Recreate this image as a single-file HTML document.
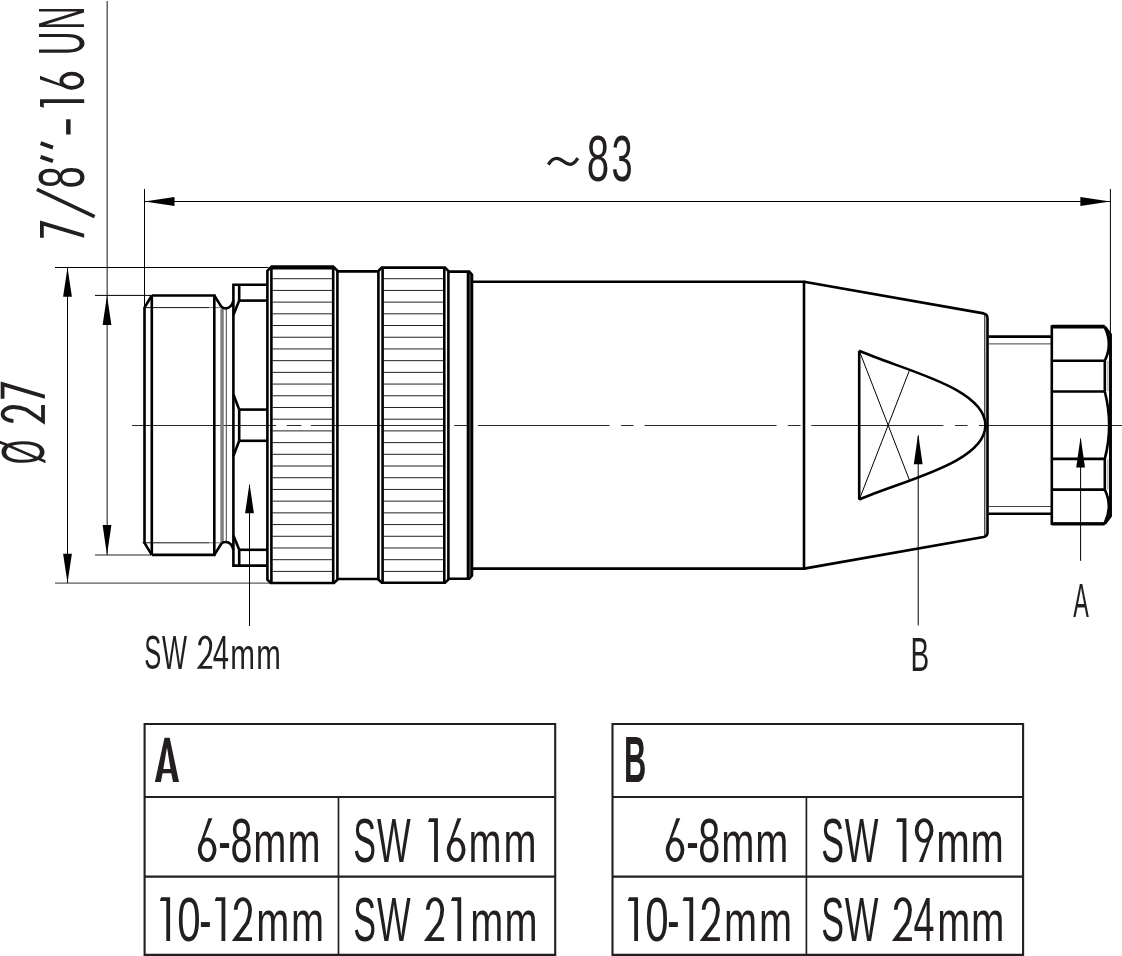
<!DOCTYPE html>
<html><head><meta charset="utf-8"><title>Connector drawing</title>
<style>
html,body{margin:0;padding:0;background:#fff;}
body{width:1122px;height:956px;overflow:hidden;}
svg{display:block;will-change:transform;}
text{font-family:"Liberation Sans",sans-serif;fill:#231f20;}
</style></head>
<body>
<svg width="1122" height="956" viewBox="0 0 1122 956">
<rect width="1122" height="956" fill="#fff"/>
<g stroke-linecap="butt" stroke-linejoin="miter">
<line x1="144.4" y1="201.5" x2="1110.4" y2="201.5" stroke="#000" stroke-width="1.0"/>
<path d="M144.6,201.5 L174.50,205.90 L174.50,197.10 Z" fill="#000"/>
<path d="M1110.2,201.5 L1080.40,197.10 L1080.40,205.90 Z" fill="#000"/>
<line x1="144.5" y1="189" x2="144.5" y2="308" stroke="#000" stroke-width="1.0"/>
<line x1="1110.4" y1="189" x2="1110.4" y2="334" stroke="#000" stroke-width="1.0"/>
<line x1="107.2" y1="1" x2="107.2" y2="554.9" stroke="#4a4a4a" stroke-width="1.3"/>
<path d="M107.0,295.5 L102.60,325.00 L111.40,325.00 Z" fill="#000"/>
<path d="M107.0,554.9 L111.40,524.90 L102.60,524.90 Z" fill="#000"/>
<line x1="67.5" y1="267.5" x2="67.5" y2="583.1" stroke="#000" stroke-width="1.0"/>
<path d="M67.5,267.5 L63.10,296.70 L71.90,296.70 Z" fill="#000"/>
<path d="M67.5,583.1 L71.90,553.80 L63.10,553.80 Z" fill="#000"/>
<line x1="55" y1="267.5" x2="268.5" y2="267.5" stroke="#000" stroke-width="1.0"/>
<line x1="55" y1="583.1" x2="269.5" y2="583.1" stroke="#333" stroke-width="1.0"/>
<line x1="95" y1="295.4" x2="151" y2="295.4" stroke="#000" stroke-width="1.0"/>
<line x1="95" y1="555.0" x2="151" y2="555.0" stroke="#222" stroke-width="1.0"/>
<line x1="132" y1="425.5" x2="276" y2="425.5" stroke="#2a2a2a" stroke-width="1.0"/>
<line x1="286.7" y1="425.5" x2="301.4" y2="425.5" stroke="#2a2a2a" stroke-width="1.0"/>
<line x1="310.8" y1="425.5" x2="443" y2="425.5" stroke="#2a2a2a" stroke-width="1.0"/>
<line x1="454.2" y1="425.5" x2="468" y2="425.5" stroke="#2a2a2a" stroke-width="1.0"/>
<line x1="478" y1="425.5" x2="609.5" y2="425.5" stroke="#2a2a2a" stroke-width="1.0"/>
<line x1="621" y1="425.5" x2="633.5" y2="425.5" stroke="#2a2a2a" stroke-width="1.0"/>
<line x1="644.5" y1="425.5" x2="776.6" y2="425.5" stroke="#2a2a2a" stroke-width="1.0"/>
<line x1="787.8" y1="425.5" x2="800.6" y2="425.5" stroke="#2a2a2a" stroke-width="1.0"/>
<line x1="811.3" y1="425.5" x2="943.4" y2="425.5" stroke="#2a2a2a" stroke-width="1.0"/>
<line x1="955" y1="425.5" x2="967.6" y2="425.5" stroke="#2a2a2a" stroke-width="1.0"/>
<line x1="979" y1="425.5" x2="1122" y2="425.5" stroke="#2a2a2a" stroke-width="1.0"/>
<line x1="249.5" y1="485" x2="249.5" y2="626" stroke="#000" stroke-width="1.0"/>
<path d="M249.5,483.2 L245.10,513.30 L253.90,513.30 Z" fill="#000"/>
<line x1="918.2" y1="436" x2="918.2" y2="625.4" stroke="#000" stroke-width="1.0"/>
<path d="M918.2,433.8 L913.80,464.20 L922.60,464.20 Z" fill="#000"/>
<line x1="1080.6" y1="439" x2="1080.6" y2="560.8" stroke="#000" stroke-width="1.0"/>
<path d="M1080.6,436.9 L1076.20,467.50 L1085.00,467.50 Z" fill="#000"/>
<rect x="220.3" y="308.6" width="3.5" height="233.2" fill="#808080"/>
<line x1="226.3" y1="308.6" x2="226.3" y2="541.8" stroke="#444" stroke-width="1.0"/>
<line x1="144.5" y1="307.6" x2="209" y2="307.6" stroke="#111" stroke-width="1.0"/>
<line x1="209" y1="307.6" x2="220.5" y2="307.6" stroke="#777" stroke-width="1.0"/>
<line x1="142.5" y1="542.8" x2="209" y2="542.8" stroke="#111" stroke-width="1.0"/>
<line x1="209" y1="542.8" x2="220.5" y2="542.8" stroke="#777" stroke-width="1.0"/>
<path d="M151.8,295.5 L144.5,307.6 L144.5,542.8 L151.8,554.9" stroke="#000" stroke-width="2.6" fill="none"/>
<path d="M151.8,295.5 L151.8,554.9" stroke="#000" stroke-width="2.6" fill="none"/>
<path d="M151.8,295.5 L214.3,295.5 L214.3,554.9 L151.8,554.9" stroke="#000" stroke-width="2.6" fill="none"/>
<path d="M214.3,295.5 L221.3,306.6 Q222.6,308.4 225.5,308.4 Q231.6,308.4 233.4,300.5" stroke="#000" stroke-width="2.6" fill="none"/>
<path d="M214.3,554.9 L221.3,543.8 Q222.6,542.0 225.5,542.0 Q231.6,542.0 233.4,549.9" stroke="#000" stroke-width="2.6" fill="none"/>
<path d="M267.4,284.8 L233.4,284.8 L233.4,565.6 L267.4,565.6" stroke="#000" stroke-width="2.6" fill="none"/>
<line x1="239.2" y1="284.8" x2="239.2" y2="300.6" stroke="#000" stroke-width="2.6"/>
<line x1="239.2" y1="409.6" x2="239.2" y2="440.8" stroke="#000" stroke-width="2.6"/>
<line x1="239.2" y1="549.8" x2="239.2" y2="565.6" stroke="#000" stroke-width="2.6"/>
<line x1="239.2" y1="300.6" x2="267.4" y2="300.6" stroke="#000" stroke-width="2.6"/>
<line x1="239.2" y1="549.8" x2="267.4" y2="549.8" stroke="#000" stroke-width="2.6"/>
<line x1="239.2" y1="409.6" x2="267.4" y2="409.6" stroke="#000" stroke-width="2.6"/>
<line x1="239.2" y1="440.8" x2="267.4" y2="440.8" stroke="#000" stroke-width="2.6"/>
<line x1="239.2" y1="300.6" x2="233.4" y2="315.0" stroke="#000" stroke-width="2.6"/>
<line x1="239.2" y1="549.8" x2="233.4" y2="535.4" stroke="#000" stroke-width="2.6"/>
<line x1="233.4" y1="394.3" x2="239.2" y2="409.6" stroke="#000" stroke-width="2.6"/>
<line x1="233.4" y1="456.1" x2="239.2" y2="440.8" stroke="#000" stroke-width="2.6"/>
<line x1="272.5" y1="278.7" x2="332.09999999999997" y2="278.7" stroke="#222" stroke-width="1.0"/>
<line x1="272.5" y1="290.41" x2="332.09999999999997" y2="290.41" stroke="#222" stroke-width="1.0"/>
<line x1="272.5" y1="302.12" x2="332.09999999999997" y2="302.12" stroke="#222" stroke-width="1.0"/>
<line x1="272.5" y1="313.82" x2="332.09999999999997" y2="313.82" stroke="#222" stroke-width="1.0"/>
<line x1="272.5" y1="325.53" x2="332.09999999999997" y2="325.53" stroke="#222" stroke-width="1.0"/>
<line x1="272.5" y1="337.24" x2="332.09999999999997" y2="337.24" stroke="#222" stroke-width="1.0"/>
<line x1="272.5" y1="348.95" x2="332.09999999999997" y2="348.95" stroke="#222" stroke-width="1.0"/>
<line x1="272.5" y1="360.66" x2="332.09999999999997" y2="360.66" stroke="#222" stroke-width="1.0"/>
<line x1="272.5" y1="372.36" x2="332.09999999999997" y2="372.36" stroke="#222" stroke-width="1.0"/>
<line x1="272.5" y1="384.07" x2="332.09999999999997" y2="384.07" stroke="#222" stroke-width="1.0"/>
<line x1="272.5" y1="395.78" x2="332.09999999999997" y2="395.78" stroke="#222" stroke-width="1.0"/>
<line x1="272.5" y1="407.49" x2="332.09999999999997" y2="407.49" stroke="#222" stroke-width="1.0"/>
<line x1="272.5" y1="419.2" x2="332.09999999999997" y2="419.2" stroke="#222" stroke-width="1.0"/>
<line x1="272.5" y1="430.9" x2="332.09999999999997" y2="430.9" stroke="#222" stroke-width="1.0"/>
<line x1="272.5" y1="442.61" x2="332.09999999999997" y2="442.61" stroke="#222" stroke-width="1.0"/>
<line x1="272.5" y1="454.32" x2="332.09999999999997" y2="454.32" stroke="#222" stroke-width="1.0"/>
<line x1="272.5" y1="466.03" x2="332.09999999999997" y2="466.03" stroke="#222" stroke-width="1.0"/>
<line x1="272.5" y1="477.74" x2="332.09999999999997" y2="477.74" stroke="#222" stroke-width="1.0"/>
<line x1="272.5" y1="489.44" x2="332.09999999999997" y2="489.44" stroke="#222" stroke-width="1.0"/>
<line x1="272.5" y1="501.15" x2="332.09999999999997" y2="501.15" stroke="#222" stroke-width="1.0"/>
<line x1="272.5" y1="512.86" x2="332.09999999999997" y2="512.86" stroke="#222" stroke-width="1.0"/>
<line x1="272.5" y1="524.57" x2="332.09999999999997" y2="524.57" stroke="#222" stroke-width="1.0"/>
<line x1="272.5" y1="536.28" x2="332.09999999999997" y2="536.28" stroke="#222" stroke-width="1.0"/>
<line x1="272.5" y1="547.98" x2="332.09999999999997" y2="547.98" stroke="#222" stroke-width="1.0"/>
<line x1="272.5" y1="559.69" x2="332.09999999999997" y2="559.69" stroke="#222" stroke-width="1.0"/>
<line x1="272.5" y1="571.4" x2="332.09999999999997" y2="571.4" stroke="#222" stroke-width="1.0"/>
<path d="M267.4,270.79999999999995 L270.79999999999995,267.4 L334.0,267.4 L337.4,270.79999999999995 L337.4,579.6 L334.0,583.0 L270.79999999999995,583.0 L267.4,579.6 Z" stroke="#000" stroke-width="2.6" fill="none"/>
<line x1="271.4" y1="267.4" x2="271.4" y2="583.0" stroke="#000" stroke-width="2.6"/>
<line x1="333.2" y1="267.4" x2="333.2" y2="583.0" stroke="#000" stroke-width="2.6"/>
<line x1="270.79999999999995" y1="267.4" x2="334.0" y2="267.4" stroke="#000" stroke-width="4.3"/>
<line x1="337.4" y1="271.4" x2="378.4" y2="271.4" stroke="#000" stroke-width="2.6"/>
<line x1="337.4" y1="579.0" x2="378.4" y2="579.0" stroke="#000" stroke-width="2.6"/>
<line x1="383.70000000000005" y1="278.7" x2="443.2" y2="278.7" stroke="#222" stroke-width="1.0"/>
<line x1="383.70000000000005" y1="290.41" x2="443.2" y2="290.41" stroke="#222" stroke-width="1.0"/>
<line x1="383.70000000000005" y1="302.12" x2="443.2" y2="302.12" stroke="#222" stroke-width="1.0"/>
<line x1="383.70000000000005" y1="313.82" x2="443.2" y2="313.82" stroke="#222" stroke-width="1.0"/>
<line x1="383.70000000000005" y1="325.53" x2="443.2" y2="325.53" stroke="#222" stroke-width="1.0"/>
<line x1="383.70000000000005" y1="337.24" x2="443.2" y2="337.24" stroke="#222" stroke-width="1.0"/>
<line x1="383.70000000000005" y1="348.95" x2="443.2" y2="348.95" stroke="#222" stroke-width="1.0"/>
<line x1="383.70000000000005" y1="360.66" x2="443.2" y2="360.66" stroke="#222" stroke-width="1.0"/>
<line x1="383.70000000000005" y1="372.36" x2="443.2" y2="372.36" stroke="#222" stroke-width="1.0"/>
<line x1="383.70000000000005" y1="384.07" x2="443.2" y2="384.07" stroke="#222" stroke-width="1.0"/>
<line x1="383.70000000000005" y1="395.78" x2="443.2" y2="395.78" stroke="#222" stroke-width="1.0"/>
<line x1="383.70000000000005" y1="407.49" x2="443.2" y2="407.49" stroke="#222" stroke-width="1.0"/>
<line x1="383.70000000000005" y1="419.2" x2="443.2" y2="419.2" stroke="#222" stroke-width="1.0"/>
<line x1="383.70000000000005" y1="430.9" x2="443.2" y2="430.9" stroke="#222" stroke-width="1.0"/>
<line x1="383.70000000000005" y1="442.61" x2="443.2" y2="442.61" stroke="#222" stroke-width="1.0"/>
<line x1="383.70000000000005" y1="454.32" x2="443.2" y2="454.32" stroke="#222" stroke-width="1.0"/>
<line x1="383.70000000000005" y1="466.03" x2="443.2" y2="466.03" stroke="#222" stroke-width="1.0"/>
<line x1="383.70000000000005" y1="477.74" x2="443.2" y2="477.74" stroke="#222" stroke-width="1.0"/>
<line x1="383.70000000000005" y1="489.44" x2="443.2" y2="489.44" stroke="#222" stroke-width="1.0"/>
<line x1="383.70000000000005" y1="501.15" x2="443.2" y2="501.15" stroke="#222" stroke-width="1.0"/>
<line x1="383.70000000000005" y1="512.86" x2="443.2" y2="512.86" stroke="#222" stroke-width="1.0"/>
<line x1="383.70000000000005" y1="524.57" x2="443.2" y2="524.57" stroke="#222" stroke-width="1.0"/>
<line x1="383.70000000000005" y1="536.28" x2="443.2" y2="536.28" stroke="#222" stroke-width="1.0"/>
<line x1="383.70000000000005" y1="547.98" x2="443.2" y2="547.98" stroke="#222" stroke-width="1.0"/>
<line x1="383.70000000000005" y1="559.69" x2="443.2" y2="559.69" stroke="#222" stroke-width="1.0"/>
<line x1="383.70000000000005" y1="571.4" x2="443.2" y2="571.4" stroke="#222" stroke-width="1.0"/>
<path d="M378.4,271.0 L381.79999999999995,267.6 L445.0,267.6 L448.4,271.0 L448.4,579.4 L445.0,582.8 L381.79999999999995,582.8 L378.4,579.4 Z" stroke="#000" stroke-width="2.6" fill="none"/>
<line x1="382.6" y1="267.6" x2="382.6" y2="582.8" stroke="#000" stroke-width="2.6"/>
<line x1="444.3" y1="267.6" x2="444.3" y2="582.8" stroke="#000" stroke-width="2.6"/>
<rect x="468.8" y="274" width="2.4" height="302.4" fill="#4a4a4a"/>
<path d="M448.4,271.6 L469.2,271.6 L472.0,274.8 L472.0,575.6 L469.2,578.8 L448.4,578.8" stroke="#000" stroke-width="2.6" fill="none"/>
<line x1="468.0" y1="271.6" x2="468.0" y2="578.8" stroke="#000" stroke-width="2.6"/>
<path d="M472,281.8 L804,281.8 L804,568.6 L472,568.6" stroke="#000" stroke-width="2.6" fill="none"/>
<path d="M804,281.8 L983.6,313.4 Q987.5,314.2 987.5,318.2 L987.5,532.2 Q987.5,536.2 983.6,537.0 L804,568.6" stroke="#000" stroke-width="2.6" fill="none"/>
<line x1="984.8" y1="315" x2="984.8" y2="535.4" stroke="#000" stroke-width="1.0"/>
<line x1="859.2" y1="350.6" x2="909.8" y2="481.0" stroke="#000" stroke-width="1"/>
<line x1="859.2" y1="499.8" x2="909.8" y2="369.4" stroke="#000" stroke-width="1"/>
<path d="M859.2,499.6 L859.2,350.8" stroke="#000" stroke-width="2.6" fill="none"/>
<path d="M859.2,350.8 C902.3,369.9 985.4,387.7 985.4,425.2" stroke="#000" stroke-width="2.6" fill="none"/>
<path d="M859.2,499.6 C902.3,480.5 985.4,462.7 985.4,425.2" stroke="#000" stroke-width="2.6" fill="none"/>
<line x1="988.6" y1="336.6" x2="1051.8" y2="336.6" stroke="#000" stroke-width="2.6"/>
<line x1="988.6" y1="513.8" x2="1051.8" y2="513.8" stroke="#000" stroke-width="2.6"/>
<line x1="988.6" y1="343.9" x2="1051.8" y2="343.9" stroke="#444" stroke-width="1.0"/>
<line x1="988.6" y1="506.5" x2="1051.8" y2="506.5" stroke="#444" stroke-width="1.0"/>
<path d="M1104.6,326.6 L1051.8,326.6 L1051.8,523.8 L1104.6,523.8" stroke="#000" stroke-width="2.6" fill="none"/>
<line x1="1051.8" y1="326.6" x2="1104.6" y2="326.6" stroke="#000" stroke-width="3.8"/>
<line x1="1051.8" y1="523.8" x2="1104.6" y2="523.8" stroke="#000" stroke-width="3.2"/>
<path d="M1104.6,326.6 L1110.5,334.4 L1110.5,516.0 L1104.6,523.8" stroke="#000" stroke-width="2.9" fill="none"/>
<line x1="1051.8" y1="360.8" x2="1104.8" y2="360.8" stroke="#000" stroke-width="2.6"/>
<line x1="1051.8" y1="489.6" x2="1104.8" y2="489.6" stroke="#000" stroke-width="2.6"/>
<line x1="1051.8" y1="391.5" x2="1104.8" y2="391.5" stroke="#000" stroke-width="2.6"/>
<line x1="1051.8" y1="458.9" x2="1104.8" y2="458.9" stroke="#000" stroke-width="2.6"/>
<line x1="1104.8" y1="360.8" x2="1104.8" y2="391.5" stroke="#000" stroke-width="2.6"/>
<line x1="1104.8" y1="489.6" x2="1104.8" y2="458.9" stroke="#000" stroke-width="2.6"/>
<path d="M1104.6,327 Q1113,344 1104.8,360.8" stroke="#000" stroke-width="2.6" fill="none"/>
<path d="M1104.6,523.4 Q1113,506.4 1104.8,489.6" stroke="#000" stroke-width="2.6" fill="none"/>
<path d="M1104.8,391.5 Q1113.5,425.2 1104.8,458.9" stroke="#000" stroke-width="2.6" fill="none"/>
<line x1="1107.9" y1="361" x2="1107.9" y2="391" stroke="#666" stroke-width="0.7"/>
<line x1="1107.9" y1="489.4" x2="1107.9" y2="459.4" stroke="#666" stroke-width="0.7"/>
<path d="M144.6,956.9 L144.6,724.0 L555.2,724.0 L555.2,956.9" stroke="#231f20" stroke-width="2.1" fill="none"/>
<line x1="144.6" y1="797.0" x2="555.2" y2="797.0" stroke="#231f20" stroke-width="2.1"/>
<line x1="144.6" y1="876.6" x2="555.2" y2="876.6" stroke="#231f20" stroke-width="2.1"/>
<line x1="144.6" y1="954.9" x2="555.2" y2="954.9" stroke="#231f20" stroke-width="2.1"/>
<line x1="338.5" y1="797.0" x2="338.5" y2="954.9" stroke="#231f20" stroke-width="1.7"/>
<path d="M612.5,956.9 L612.5,724.0 L1023.1,724.0 L1023.1,956.9" stroke="#231f20" stroke-width="2.1" fill="none"/>
<line x1="612.5" y1="797.0" x2="1023.1" y2="797.0" stroke="#231f20" stroke-width="2.1"/>
<line x1="612.5" y1="876.6" x2="1023.1" y2="876.6" stroke="#231f20" stroke-width="2.1"/>
<line x1="612.5" y1="954.9" x2="1023.1" y2="954.9" stroke="#231f20" stroke-width="2.1"/>
<line x1="806.4" y1="797.0" x2="806.4" y2="954.9" stroke="#231f20" stroke-width="1.7"/>
</g>
<g>
<path fill-rule="evenodd" fill="#231f20" d="M154.9,782 L164.5,737.7 L169.7,737.7 L179,782 L173,782 L171.3,773.3 L162.6,773.3 L160.9,782 Z M163.3,769.1 L170.5,769.1 L167.2,748.5 L166.8,748.5 Z"/>
<g transform="translate(0,862.1)"><ellipse cx="207.15" cy="-12.26" rx="7.47" ry="10.39" fill="none" stroke="#231f20" stroke-width="3.75"/><polygon points="208.46,-43.80 212.39,-43.80 203.78,-22.65 199.68,-14.10 197.80,-12.26" fill="#231f20"/><text transform="translate(218.33,0.00) scale(0.5916,1.0000)" font-size="63.7">-</text><text transform="translate(230.39,0.00) scale(0.6189,1.0000)" font-size="63.7">8</text><text transform="translate(253.36,0.00) scale(0.6251,0.9150)" font-size="63.7">m</text><text transform="translate(287.47,0.00) scale(0.6228,0.9150)" font-size="63.7">m</text><text transform="translate(353.25,0.00) scale(0.5345,1.0000)" font-size="63.7">S</text><text transform="translate(376.94,0.00) scale(0.5602,1.0000)" font-size="63.7">W</text><path d="M429.30,-43.80 L437.90,-43.80 L437.90,0 L434.10,0 L434.10,-40.10 L428.00,-40.10 Z" fill="#231f20"/><ellipse cx="456.10" cy="-12.26" rx="7.53" ry="10.39" fill="none" stroke="#231f20" stroke-width="3.75"/><polygon points="457.42,-43.80 461.36,-43.80 452.72,-22.65 448.57,-14.10 446.70,-12.26" fill="#231f20"/><text transform="translate(468.47,0.00) scale(0.6228,0.9150)" font-size="63.7">m</text><text transform="translate(503.47,0.00) scale(0.6228,0.9150)" font-size="63.7">m</text></g>
<g transform="translate(0,941.0)"><path d="M161.10,-43.80 L170.10,-43.80 L170.10,0 L166.30,0 L166.30,-40.10 L159.80,-40.10 Z" fill="#231f20"/><text transform="translate(177.26,0.00) scale(0.6601,1.0000)" font-size="63.7">0</text><text transform="translate(199.36,0.00) scale(0.5787,1.0000)" font-size="63.7">-</text><path d="M216.00,-43.80 L225.30,-43.80 L225.30,0 L221.50,0 L221.50,-40.10 L214.70,-40.10 Z" fill="#231f20"/><path d="M235.68,-31.75 L235.68,-31.19 A7.22,10.73 0 0 1 250.12,-31.19 C250.12,-25.94 249.03,-22.43 247.21,-18.05 L235.49,-1.88 L252.00,-1.88" fill="none" stroke="#231f20" stroke-width="3.75" stroke-linejoin="miter" stroke-miterlimit="8"/><text transform="translate(256.17,0.00) scale(0.6228,0.9150)" font-size="63.7">m</text><text transform="translate(291.07,0.00) scale(0.6228,0.9150)" font-size="63.7">m</text><text transform="translate(353.25,0.00) scale(0.5345,1.0000)" font-size="63.7">S</text><text transform="translate(376.94,0.00) scale(0.5602,1.0000)" font-size="63.7">W</text><path d="M427.77,-31.75 L427.77,-31.19 A7.23,10.73 0 0 1 442.23,-31.19 C442.23,-25.94 441.13,-22.43 439.31,-18.05 L427.59,-1.88 L444.10,-1.88" fill="none" stroke="#231f20" stroke-width="3.75" stroke-linejoin="miter" stroke-miterlimit="8"/><path d="M452.30,-43.80 L461.20,-43.80 L461.20,0 L457.40,0 L457.40,-40.10 L451.00,-40.10 Z" fill="#231f20"/><text transform="translate(470.27,0.00) scale(0.6228,0.9150)" font-size="63.7">m</text><text transform="translate(504.57,0.00) scale(0.6228,0.9150)" font-size="63.7">m</text></g>
<g transform="translate(0,781.8)"><text transform="translate(624.04,0.00) scale(0.4817,1.0000)" font-size="64.0" font-weight="bold">B</text></g>
<g transform="translate(0,862.1)"><ellipse cx="675.05" cy="-12.26" rx="7.47" ry="10.39" fill="none" stroke="#231f20" stroke-width="3.75"/><polygon points="676.36,-43.80 680.29,-43.80 671.68,-22.65 667.58,-14.10 665.70,-12.26" fill="#231f20"/><text transform="translate(686.23,0.00) scale(0.5916,1.0000)" font-size="63.7">-</text><text transform="translate(698.29,0.00) scale(0.6189,1.0000)" font-size="63.7">8</text><text transform="translate(721.26,0.00) scale(0.6251,0.9150)" font-size="63.7">m</text><text transform="translate(755.37,0.00) scale(0.6228,0.9150)" font-size="63.7">m</text><text transform="translate(821.15,0.00) scale(0.5345,1.0000)" font-size="63.7">S</text><text transform="translate(844.84,0.00) scale(0.5602,1.0000)" font-size="63.7">W</text><path d="M897.40,-43.80 L906.40,-43.80 L906.40,0 L902.60,0 L902.60,-40.10 L896.10,-40.10 Z" fill="#231f20"/><ellipse cx="924.10" cy="-31.54" rx="7.43" ry="10.39" fill="none" stroke="#231f20" stroke-width="3.75"/><polygon points="922.80,0.00 918.89,0.00 927.45,-21.15 931.52,-29.70 933.40,-31.54" fill="#231f20"/><text transform="translate(936.33,0.00) scale(0.6318,0.9150)" font-size="63.7">m</text><text transform="translate(970.55,0.00) scale(0.6273,0.9150)" font-size="63.7">m</text></g>
<g transform="translate(0,941.0)"><path d="M629.00,-43.80 L638.00,-43.80 L638.00,0 L634.20,0 L634.20,-40.10 L627.70,-40.10 Z" fill="#231f20"/><text transform="translate(645.16,0.00) scale(0.6601,1.0000)" font-size="63.7">0</text><text transform="translate(667.26,0.00) scale(0.5787,1.0000)" font-size="63.7">-</text><path d="M683.90,-43.80 L693.20,-43.80 L693.20,0 L689.40,0 L689.40,-40.10 L682.60,-40.10 Z" fill="#231f20"/><path d="M703.58,-31.75 L703.58,-31.19 A7.22,10.73 0 0 1 718.02,-31.19 C718.02,-25.94 716.93,-22.43 715.11,-18.05 L703.39,-1.88 L719.90,-1.88" fill="none" stroke="#231f20" stroke-width="3.75" stroke-linejoin="miter" stroke-miterlimit="8"/><text transform="translate(724.07,0.00) scale(0.6228,0.9150)" font-size="63.7">m</text><text transform="translate(758.97,0.00) scale(0.6228,0.9150)" font-size="63.7">m</text><text transform="translate(821.15,0.00) scale(0.5345,1.0000)" font-size="63.7">S</text><text transform="translate(844.84,0.00) scale(0.5602,1.0000)" font-size="63.7">W</text><path d="M895.77,-31.75 L895.77,-31.19 A7.12,10.73 0 0 1 910.02,-31.19 C910.02,-25.94 908.94,-22.43 907.14,-18.05 L895.59,-1.88 L911.90,-1.88" fill="none" stroke="#231f20" stroke-width="3.75" stroke-linejoin="miter" stroke-miterlimit="8"/><text transform="translate(913.53,0.00) scale(0.5919,1.0000)" font-size="63.7">4</text><text transform="translate(937.37,0.00) scale(0.6228,0.9150)" font-size="63.7">m</text><text transform="translate(971.04,0.00) scale(0.6296,0.9150)" font-size="63.7">m</text></g>
<g transform="translate(0,668.8)"><text transform="translate(144.14,0.00) scale(0.5320,1.0000)" font-size="48.0">S</text><text transform="translate(161.88,0.00) scale(0.5520,1.0000)" font-size="48.0">W</text><path d="M199.62,-24.07 L199.62,-23.64 A5.58,8.13 0 0 1 210.78,-23.64 C210.78,-19.66 209.94,-17.00 208.54,-13.68 L199.48,-1.42 L212.20,-1.42" fill="none" stroke="#231f20" stroke-width="2.84" stroke-linejoin="miter" stroke-miterlimit="8"/><text transform="translate(212.83,0.00) scale(0.6078,1.0000)" font-size="48.0">4</text><text transform="translate(230.23,0.00) scale(0.6184,0.8800)" font-size="48.0">m</text><text transform="translate(256.34,0.00) scale(0.6155,0.8800)" font-size="48.0">m</text></g>
<g transform="translate(0,670.6)"><text transform="translate(910.40,0.00) scale(0.5832,1.0000)" font-size="48.0">B</text></g>
<g transform="translate(0,616.6)"><text transform="translate(1073.35,0.00) scale(0.4870,1.0000)" font-size="48.0">A</text></g>
<g transform="translate(0,181.1)"><text transform="translate(586.85,0.00) scale(0.6225,1.0000)" font-size="64.7">8</text><text transform="translate(611.55,0.00) scale(0.5868,1.0000)" font-size="64.7">3</text></g>
<path d="M548.4,164.6 C551,160 553.5,158.3 556.8,158.3 C561.5,158.3 565.5,164.3 570.3,164.3 C573.5,164.3 575.5,162 577.8,158.2" stroke="#231f20" stroke-width="3.3" fill="none"/>
<g transform="translate(84.2,240) rotate(-90)"><polygon points="2.20,-44.20 19.50,-44.20 6.26,0.00 2.20,0.00 14.30,-40.42 2.20,-40.42" fill="#231f20"/><text transform="translate(51.46,0.00) scale(0.6260,1.0000)" font-size="64.0">8</text><path d="M133.51,-44.20 L140.80,-44.20 L140.80,0 L136.97,0 L136.97,-40.47 L132.20,-40.47 Z" fill="#231f20"/><ellipse cx="159.25" cy="-12.38" rx="7.06" ry="10.48" fill="none" stroke="#231f20" stroke-width="3.78"/><polygon points="160.50,-44.20 164.26,-44.20 156.03,-22.86 152.19,-14.23 150.30,-12.38" fill="#231f20"/><text transform="translate(184.65,0.00) scale(0.5173,1.0000)" font-size="64.0">U</text><text transform="translate(210.33,0.00) scale(0.5091,1.0000)" font-size="64.0">N</text></g>
<line x1="94.6" y1="216.6" x2="36.9" y2="189.3" stroke="#231f20" stroke-width="3.7"/>
<line x1="40.6" y1="143.2" x2="53.0" y2="147.6" stroke="#231f20" stroke-width="3.9"/>
<line x1="40.6" y1="156.8" x2="53.0" y2="161.2" stroke="#231f20" stroke-width="3.9"/>
<rect x="66.1" y="119.3" width="4.5" height="15.2" fill="#231f20"/>
<g transform="translate(44.9,240) rotate(-90)"><text transform="translate(-224.29,-1.07) scale(0.4933,0.9459)" font-size="64.0">Ø</text><path d="M-181.01,-32.05 L-181.01,-31.48 A7.01,10.83 0 0 1 -166.99,-31.48 C-166.99,-26.17 -168.06,-22.64 -169.84,-18.22 L-181.20,-1.89 L-165.10,-1.89" fill="none" stroke="#231f20" stroke-width="3.78" stroke-linejoin="miter" stroke-miterlimit="8"/><polygon points="-158.80,-44.20 -141.50,-44.20 -154.74,0.00 -158.80,0.00 -146.70,-40.42 -158.80,-40.42" fill="#231f20"/></g>
</g>
</svg>
</body></html>
